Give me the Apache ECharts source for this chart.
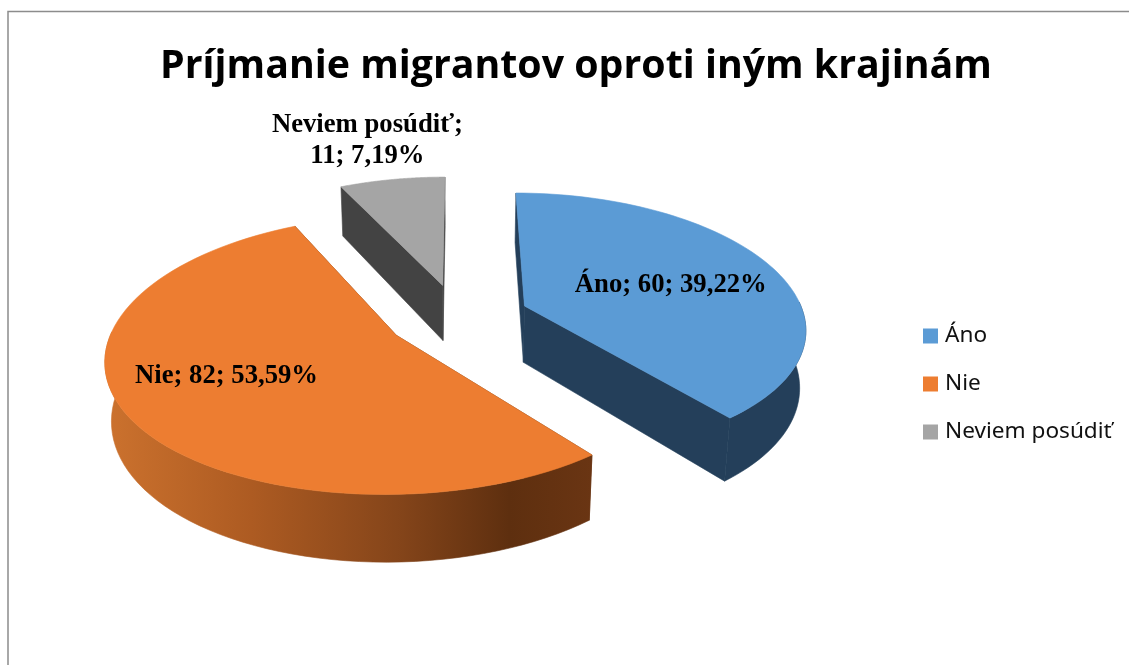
<!DOCTYPE html>
<html>
<head>
<meta charset="utf-8">
<title>Príjmanie migrantov oproti iným krajinám</title>
<script src="https://cdn.jsdelivr.net/npm/echarts@6/dist/echarts.min.js"></script>
<style>
  html, body { margin: 0; padding: 0; background: #fff; }
  #main { width: 1129px; height: 665px; }
</style>
</head>
<body>
<div id="main"></div>
<script>
const titleText = 'Príjmanie migrantov oproti iným krajinám'
const categories = ['Áno', 'Nie', 'Neviem posúdiť']
const counts = [60, 82, 11]
const total = counts[0] + counts[1] + counts[2]

const topColors = ['#5B9BD5', '#ED7D31', '#A5A5A5']
const sideColors = ['#243F5A', '#6A3513', '#434343']

// camera for the tilted pie, radius units are turned into pixels here
const view = { cx: 458, cy: 317, a: 280, b: 131.5, h: 57, explode: 0.255, vx: 460, k: 0.139, kx: 0.155, m: 0.018 }
// label: distance along the middle of the slice, then a small nudge in px
const labelR = [0.54, 0.7, 1.3]
const labelShift = [[11, 2], [14, -13], [-12, -12]]

function project(u, v, z) {
  return [
    view.vx + (view.cx - view.vx + view.a * u) / (1 + view.kx * v + view.m * z),
    view.cy + (-view.b * v + view.h * z) / (1 + view.k * v)
  ]
}

function percentText(value) {
  return (value / total * 100).toFixed(2).replace('.', ',') + '%'
}

function renderSlice(index, params, api) {
  const value = api.value(0)
  let before = 0
  for (let i = 0; i < index; i++) before += counts[i]
  const start = before / total * Math.PI * 2
  const end = (before + value) / total * Math.PI * 2
  const mid = (start + end) / 2
  const ou = Math.sin(mid) * view.explode
  const ov = Math.cos(mid) * view.explode

  const arcTop = []
  const wallTop = []
  const wallBottom = []
  const steps = 80
  for (let i = 0; i <= steps; i++) {
    const t = start + (end - start) * i / steps
    const u = ou + Math.sin(t)
    const v = ov + Math.cos(t)
    arcTop.push(project(u, v, 0))
    // the back of the rim can't be seen, only build the wall for the front
    if (Math.cos(t) < 0.05) {
      wallTop.push(project(u, v, 0))
      wallBottom.push(project(u, v, 1))
    }
  }
  const arcEdge = (t) => [
    project(ou + Math.sin(t), ov + Math.cos(t), 0),
    project(ou + Math.sin(t), ov + Math.cos(t), 1)
  ]
  const startEdge = arcEdge(start)
  const endEdge = arcEdge(end)
  const apexTop = project(ou, ov, 0)
  const apexBottom = project(ou, ov, 1)

  let wallFill = sideColors[index]
  if (index === 1) {
    wallFill = new echarts.graphic.LinearGradient(0, 0, 1, 0, [
      { offset: 0, color: '#CC722E' },
      { offset: 0.3, color: '#AD5B22' },
      { offset: 0.6, color: '#85451A' },
      { offset: 0.83, color: '#5E2F0F' },
      { offset: 1, color: '#6A3513' }
    ])
  }

  const face = (points, fill) => ({
    type: 'polygon',
    shape: { points: points },
    style: { fill: fill, stroke: fill, lineWidth: 0.6 }
  })

  const text = categories[index] + '; ' + value + '; ' + percentText(value)
  const lp = project(ou + Math.sin(mid) * labelR[index], ov + Math.cos(mid) * labelR[index], 0)

  const children = [
    face([apexTop, startEdge[0], startEdge[1], apexBottom], sideColors[index]),
    face([apexTop, endEdge[0], endEdge[1], apexBottom], sideColors[index])
  ]
  if (wallTop.length > 1) {
    children.push(face(wallTop.concat(wallBottom.reverse()), wallFill))
  }
  children.push(face([apexTop].concat(arcTop), topColors[index]))
  children.push({
    type: 'text',
    z2: 10,
    style: {
      x: lp[0] + labelShift[index][0],
      y: lp[1] + labelShift[index][1],
      text: index === 2 ? text.replace('; ', ';\n') : text,
      align: 'center',
      verticalAlign: 'middle',
      fontFamily: 'Liberation Serif',
      fontWeight: 'bold',
      fontSize: 26.7,
      lineHeight: 31,
      fill: '#000'
    }
  })
  return { type: 'group', children: children }
}

const chart = echarts.init(document.getElementById('main'))
chart.setOption({
  animation: false,
  backgroundColor: '#fff',
  title: {
    text: titleText,
    left: 571,
    top: 42,
    textAlign: 'center',
    textStyle: { fontFamily: 'Open Sans', fontWeight: 'bold', fontSize: 39.3, color: '#000' }
  },
  legend: {
    orient: 'vertical',
    left: 918,
    top: 316,
    data: categories,
    icon: 'rect',
    itemWidth: 15,
    itemHeight: 15,
    itemGap: 18,
    selectedMode: false,
    textStyle: { fontFamily: 'Noto Sans', fontSize: 22.6, color: '#111', lineHeight: 30, padding: [0, 0, 0, 2] }
  },
  graphic: [{
    type: 'polyline',
    silent: true,
    shape: { points: [[8, 665], [8, 11.5], [1129, 11.5]] },
    style: { stroke: '#8C8C8C', lineWidth: 1.5, fill: null }
  }],
  series: categories.map((name, index) => ({
    type: 'custom',
    name: name,
    coordinateSystem: 'none',
    silent: true,
    itemStyle: { color: topColors[index] },
    data: [[counts[index]]],
    renderItem: (params, api) => renderSlice(index, params, api)
  }))
})
</script>
</body>
</html>
